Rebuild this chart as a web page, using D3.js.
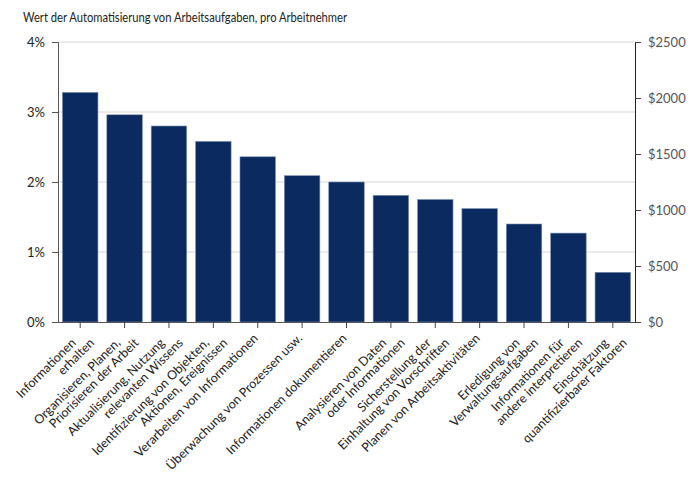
<!DOCTYPE html>
<html>
<head>
<meta charset="utf-8">
<script src="https://cdn.jsdelivr.net/npm/d3@7"></script>
<style>
  html, body { margin: 0; padding: 0; background: #fff; }
  svg { display: block; font-family: Lato, "Open Sans", sans-serif; }
</style>
</head>
<body>
<svg id="chart" width="700" height="502"></svg>
<script>
const title = "Wert der Automatisierung von Arbeitsaufgaben, pro Arbeitnehmer";
const categories = [
  ["Informationen", "erhalten"],
  ["Organisieren, Planen,", "Priorisieren der Arbeit"],
  ["Aktualisierung, Nutzung", "relevanten Wissens"],
  ["Identifizierung von Objekten,", "Aktionen, Ereignissen"],
  ["Verarbeiten von Informationen"],
  ["Überwachung von Prozessen usw."],
  ["Informationen dokumentieren"],
  ["Analysieren von Daten", "oder Informationen"],
  ["Sicherstellung der", "Einhaltung von Vorschriften"],
  ["Planen von Arbeitsaktivitäten"],
  ["Erledigung von", "Verwaltungsaufgaben"],
  ["Informationen für", "andere interpretieren"],
  ["Einschätzung", "quantifizierbarer Faktoren"]
];
const values = [3.28, 2.96, 2.80, 2.58, 2.36, 2.09, 2.00, 1.81, 1.75, 1.62, 1.40, 1.27, 0.71];
const leftTicks = [0, 1, 2, 3, 4];
const rightTicks = [0, 500, 1000, 1500, 2000, 2500];

const svg = d3.select("#chart");
const mLeft = 58, mRight = 635, mTop = 42, mBottom = 322;

const x = d3.scaleBand().domain(d3.range(categories.length)).range([mLeft, mRight])
  .paddingInner(0.2).paddingOuter(0.1);
const y = d3.scaleLinear().domain([0, 4]).range([mBottom, mTop]);
const y2 = d3.scaleLinear().domain([0, 2500]).range([mBottom, mTop]);

svg.append("text").attr("x", 23).attr("y", 22)
  .attr("font-size", 12.5).attr("fill", "#222")
  .attr("textLength", 324).attr("lengthAdjust", "spacingAndGlyphs").text(title);

// gridlines
svg.append("g").selectAll("line").data(leftTicks.filter(d => d > 0)).join("line")
  .attr("x1", mLeft).attr("x2", mRight)
  .attr("y1", d => y(d)).attr("y2", d => y(d))
  .attr("stroke", "#d6d6d6").attr("stroke-width", 1);

// bars
svg.append("g").selectAll("rect").data(values).join("rect")
  .attr("x", (d, i) => x(i)).attr("width", x.bandwidth())
  .attr("y", d => y(d)).attr("height", d => y(0) - y(d))
  .attr("fill", "#0b2a5f").attr("stroke", "#7d91b3").attr("stroke-width", 0.6);

// left axis
const gl = svg.append("g").attr("transform", `translate(${mLeft},0)`)
  .call(d3.axisLeft(y).tickValues(leftTicks).tickFormat(d => d + "%").tickSize(6).tickPadding(7));
gl.select(".domain").attr("stroke", "#555");
gl.selectAll(".tick line").attr("stroke", "#555");
gl.selectAll("text").attr("font-size", 13).attr("fill", "#222").attr("font-family", "Lato");

// right axis
const gr = svg.append("g").attr("transform", `translate(${mRight},0)`)
  .call(d3.axisRight(y2).tickValues(rightTicks).tickFormat(d => "$" + d).tickSize(6).tickPadding(7));
gr.select(".domain").attr("stroke", "#222");
gr.selectAll(".tick line").attr("stroke", "#444");
gr.selectAll("text").attr("font-size", 13).attr("fill", "#555").attr("font-family", "Lato");

// bottom axis
const gb = svg.append("g").attr("transform", `translate(0,${mBottom})`)
  .call(d3.axisBottom(x).tickSize(6).tickFormat(""));
gb.select(".domain").attr("stroke", "#555").attr("d", `M${mLeft},0.5H${mRight}`);
gb.selectAll(".tick line").attr("stroke", "#444");

// rotated multi-line labels
const lh = 13;
const lab = svg.append("g").attr("font-size", 12.5).attr("fill", "#222");
categories.forEach((lines, i) => {
  const cx = x(i) + x.bandwidth() / 2 + 1;
  const g = lab.append("g").attr("transform", `translate(${cx},339) rotate(-45)`);
  const n = lines.length;
  lines.forEach((t, j) => {
    g.append("text").attr("text-anchor", "end")
      .attr("x", (j - (n - 1) / 2) * lh).attr("y", j * lh).text(t);
  });
});
</script>
</body>
</html>
